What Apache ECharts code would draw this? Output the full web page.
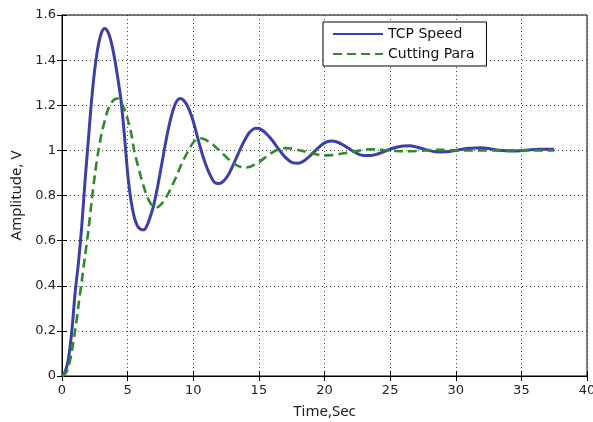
<!DOCTYPE html>
<html>
<head>
<meta charset="utf-8">
<script src="https://cdn.jsdelivr.net/npm/echarts@6/dist/echarts.min.js"></script>
<style>
html,body{margin:0;padding:0;background:#fff;}
#chart{width:593px;height:422px;}
</style>
</head>
<body>
<div id="chart"></div>
<script>
// Time samples (s)
var timeSec = [0,0.25,0.5,0.75,1,1.25,1.5,1.75,2,2.25,2.5,2.75,3,3.25,3.5,3.75,4,4.25,4.5,4.75,5,5.25,5.5,5.75,6,6.25,6.5,6.75,7,7.25,7.5,7.75,8,8.25,8.5,8.75,9,9.25,9.5,9.75,10,10.25,10.5,10.75,11,11.25,11.5,11.75,12,12.25,12.5,12.75,13,13.25,13.5,13.75,14,14.25,14.5,14.75,15,
  15.5,16,16.5,17,17.5,18,18.5,19,19.5,20,20.5,21,21.5,22,22.5,23,23.5,24,24.5,25,25.5,26,26.5,27,27.5,28,28.5,29,29.5,30,30.5,31,31.5,32,32.5,33,33.5,34,34.5,35,35.5,36,36.5,37,37.5];
// TCP Speed amplitude (V)
var tcpSpeed = [0,0.02,0.08,0.2,0.37,0.5,0.66,0.86,1.04,1.22,1.36,1.46,1.52,1.54,1.525,1.48,1.41,1.32,1.22,1.07,0.9,0.78,0.705,0.665,0.65,0.648,0.67,0.71,0.76,0.829,0.907,0.988,1.066,1.133,1.186,1.219,1.23,1.223,1.203,1.171,1.129,1.075,1.02,0.972,0.93,0.895,0.867,0.854,0.853,0.861,0.877,0.9,0.93,0.962,0.995,1.026,1.054,1.077,1.091,1.098,1.097,
  1.078,1.046,1.006,0.97,0.947,0.943,0.956,0.981,1.01,1.033,1.041,1.036,1.021,1.003,0.986,0.977,0.977,0.983,0.993,1.005,1.014,1.019,1.02,1.015,1.007,0.999,0.994,0.993,0.995,1.0,1.005,1.009,1.011,1.012,1.008,1.003,0.999,0.997,0.997,0.999,1.002,1.004,1.005,1.005,1.005];
// Cutting Para amplitude (V)
var cuttingPara = [0,0.01,0.04,0.11,0.2,0.31,0.42,0.53,0.64,0.77,0.89,0.99,1.07,1.13,1.18,1.21,1.226,1.23,1.214,1.182,1.138,1.082,1.0,0.94,0.885,0.835,0.793,0.765,0.75,0.748,0.758,0.775,0.798,0.826,0.857,0.89,0.925,0.957,0.985,1.012,1.035,1.049,1.054,1.052,1.045,1.035,1.026,1.012,1.0,0.985,0.971,0.957,0.945,0.936,0.929,0.925,0.924,0.926,0.932,0.939,0.948,
  0.969,0.99,1.004,1.01,1.008,1.002,0.995,0.987,0.981,0.978,0.979,0.982,0.987,0.993,0.998,1.003,1.005,1.004,1.002,0.999,0.997,0.996,0.996,0.997,0.999,1.001,1.002,1.002,1.001,1.0,1.0,1.0,1.0,1.0,1.0,1.0,1.0,1.0,1.0,1.0,1.0,1.0,1.0,1.0,1.0];
var seriesNames = ['TCP Speed','Cutting Para'];
var xTicks = {min:0,max:40,interval:5};
var yTicks = {min:0,max:1.6,interval:0.2};

function pairs(xs, ys){ return xs.map(function(x,i){ return [x, ys[i]]; }); }

var chart = echarts.init(document.getElementById('chart'), null, {renderer:'canvas'});
var labelFont = {color:'#222', fontSize:13, fontFamily:'DejaVu Sans, Arial, sans-serif'};
var gridLine = {show:true, lineStyle:{color:'#444', type:[1,3], width:1}};
chart.setOption({
  animation:false,
  backgroundColor:'#fff',
  grid:{left:62, right:6, top:15, bottom:46, outerBoundsMode:'none', containLabel:false,
        show:true, borderColor:'#000', borderWidth:1, backgroundColor:'#fff'},
  legend:{
    data:seriesNames, orient:'vertical', left:323, top:22,
    itemWidth:50, itemHeight:14, itemGap:6,
    padding:[5,12,5,9],
    backgroundColor:'#fff', borderColor:'#000', borderWidth:1,
    itemStyle:{opacity:0},
    textStyle:{color:'#111', fontSize:14, fontFamily:'DejaVu Sans, Arial, sans-serif'}
  },
  xAxis:[{
    type:'value', min:xTicks.min, max:xTicks.max, interval:xTicks.interval,
    name:'Time,Sec', nameLocation:'middle', nameGap:28,
    nameTextStyle:{color:'#222', fontSize:15, fontFamily:'Noto Sans, DejaVu Sans, sans-serif'},
    axisLine:{show:true, lineStyle:{color:'#000', width:1}},
    axisTick:{show:true, inside:true, length:5, lineStyle:{color:'#000'}},
    axisLabel:Object.assign({margin:8}, labelFont),
    splitLine:gridLine
  },{
    type:'value', position:'top', min:xTicks.min, max:xTicks.max, interval:xTicks.interval,
    axisLine:{show:true, lineStyle:{color:'#000'}},
    axisTick:{show:true, inside:true, length:5, lineStyle:{color:'#000'}},
    axisLabel:{show:false}, splitLine:{show:false}
  }],
  yAxis:[{
    type:'value', min:yTicks.min, max:yTicks.max, interval:yTicks.interval,
    name:'Amplitude, V', nameLocation:'middle', nameGap:38, nameRotate:90,
    nameTextStyle:{color:'#222', fontSize:15, fontFamily:'Noto Sans, DejaVu Sans, sans-serif'},
    axisLine:{show:true, lineStyle:{color:'#000', width:1}},
    axisTick:{show:true, inside:true, length:5, lineStyle:{color:'#000'}},
    axisLabel:Object.assign({margin:6}, labelFont),
    splitLine:gridLine
  },{
    type:'value', position:'right', min:yTicks.min, max:yTicks.max, interval:yTicks.interval,
    axisLine:{show:true, lineStyle:{color:'#000'}},
    axisTick:{show:true, inside:true, length:5, lineStyle:{color:'#000'}},
    axisLabel:{show:false}, splitLine:{show:false}
  }],
  series:[{
    name:seriesNames[0], type:'line', data:pairs(timeSec, tcpSpeed),
    smooth:0.3, showSymbol:false, symbol:'none', z:3,
    lineStyle:{color:'#3c3fa6', width:3},
    itemStyle:{color:'#3c3fa6'}
  },{
    name:seriesNames[1], type:'line', data:pairs(timeSec, cuttingPara),
    smooth:0.3, showSymbol:false, symbol:'none', z:4,
    lineStyle:{color:'#2e8a2a', width:2.6, type:[9,5]},
    itemStyle:{color:'#2e8a2a'}
  }]
});
</script>
</body>
</html>
